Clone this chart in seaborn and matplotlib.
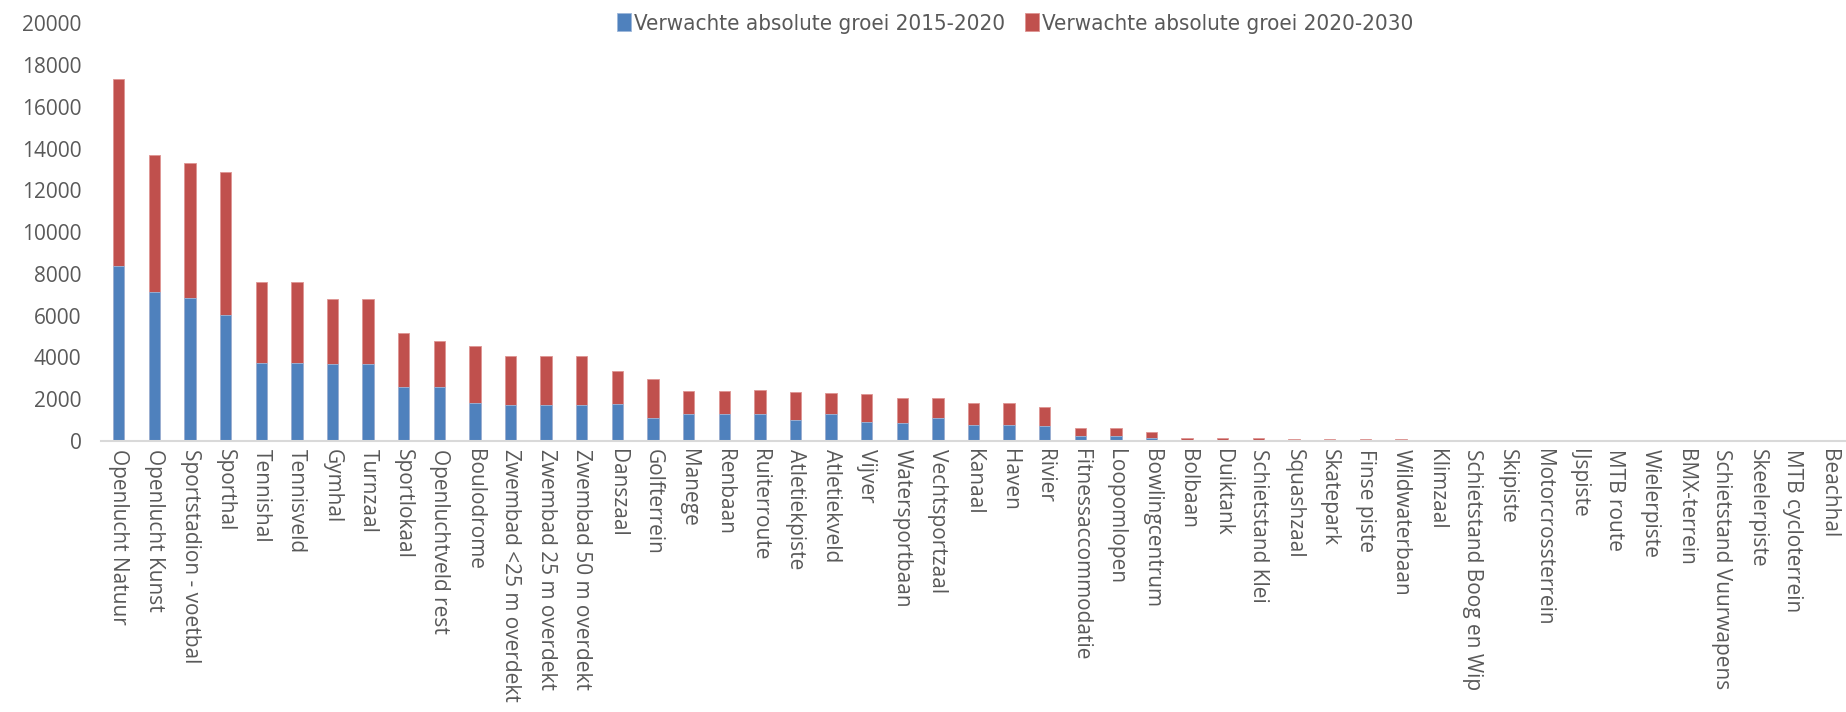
import pandas as pd
import seaborn as sns
import matplotlib.pyplot as plt

# --- data ---
categories = [
    'Openlucht Natuur', 'Openlucht Kunst', 'Sportstadion - voetbal', 'Sporthal',
    'Tennishal', 'Tennisveld', 'Gymhal', 'Turnzaal', 'Sportlokaal',
    'Openluchtveld rest', 'Boulodrome', 'Zwembad <25 m overdekt',
    'Zwembad 25 m overdekt', 'Zwembad 50 m overdekt', 'Danszaal', 'Golfterrein',
    'Manege', 'Renbaan', 'Ruiterroute', 'Atletiekpiste', 'Atletiekveld', 'Vijver',
    'Watersportbaan', 'Vechtsportzaal', 'Kanaal', 'Haven', 'Rivier',
    'Fitnessaccommodatie', 'Loopomlopen', 'Bowlingcentrum', 'Bolbaan', 'Duiktank',
    'Schietstand Klei', 'Squashzaal', 'Skatepark', 'Finse piste', 'Wildwaterbaan',
    'Klimzaal', 'Schietstand Boog en Wip', 'Skipiste', 'Motorcrossterrein',
    'IJspiste', 'MTB route', 'Wielerpiste', 'BMX-terrein',
    'Schietstand Vuurwapens', 'Skeelerpiste', 'MTB cycloterrein', 'Beachhal',
]

groei_2015_2020 = [
    8357, 7130, 6860, 6030, 3725, 3725, 3700, 3700, 2565, 2575,
    1795, 1710, 1710, 1710, 1750, 1090, 1275, 1275, 1275, 985,
    1275, 890, 855, 1080, 745, 745, 695, 210, 210, 120,
    40, 30, 25, 15, 15, 5, 5, 5, 5, 0,
    0, 0, 0, 0, 0, 0, 0, 0, 0,
]

groei_2020_2030 = [
    8964, 6586, 6473, 6873, 3905, 3905, 3090, 3090, 2595, 2215,
    2755, 2365, 2365, 2365, 1605, 1880, 1130, 1130, 1145, 1345,
    1035, 1340, 1195, 960, 1055, 1050, 945, 410, 390, 285,
    105, 110, 115, 85, 80, 85, 70, 40, 35, 0,
    0, 0, 0, 0, 0, 0, 0, 0, 0,
]

label_a = 'Verwachte absolute groei 2015-2020'
label_b = 'Verwachte absolute groei 2020-2030'

df = pd.DataFrame({
    'categorie': categories,
    'a': groei_2015_2020,
    'b': groei_2020_2030,
})
df['totaal'] = df['a'] + df['b']

sns.set_style('white')
plt.rcParams['font.family'] = ['Open Sans', 'DejaVu Sans']

blue = '#4F81BD'
red = '#C0504D'

fig = plt.figure(figsize=(18.46, 7.12), dpi=100)
ax = fig.add_axes([0.0547, 0.381, 0.9453, 0.586])

# stacked: draw totals in red, the first period in blue over it
sns.barplot(data=df, x='categorie', y='totaal', color=red, width=0.32,
            saturation=1, edgecolor='#DE9492', linewidth=0.6,
            label=label_b, ax=ax)
sns.barplot(data=df, x='categorie', y='a', color=blue, width=0.32,
            saturation=1, edgecolor='#9DB7DA', linewidth=0.6,
            label=label_a, ax=ax)

ax.set_ylim(0, 20000)
ax.set_xlim(-0.5, len(categories) - 0.5)
ax.set_yticks(range(0, 20001, 2000))
ax.set_xlabel('')
ax.set_ylabel('')
ax.tick_params(axis='both', length=0, colors='#595959')
ax.tick_params(axis='y', labelsize=15, pad=14)
ax.tick_params(axis='x', labelsize=15, rotation=-90, pad=6)
for lbl in ax.get_xticklabels():
    lbl.set_ha('center')
    lbl.set_va('top')

for side in ['top', 'right', 'left']:
    ax.spines[side].set_visible(False)
ax.spines['bottom'].set_color('#D9D9D9')
ax.spines['bottom'].set_linewidth(1.5)

handles, labels = ax.get_legend_handles_labels()
order = [labels.index(label_a), labels.index(label_b)]
ax.legend([handles[i] for i in order], [labels[i] for i in order],
          loc='center', bbox_to_anchor=(0.55, 0.967), bbox_transform=fig.transFigure,
          ncol=2, frameon=False, handlelength=0.6, handleheight=0.9,
          handletextpad=0.15, columnspacing=0.9,
          prop={'family': 'DejaVu Sans', 'stretch': 'condensed', 'size': 16},
          labelcolor='#595959')

plt.savefig('out.png', dpi=100)
plt.close()
